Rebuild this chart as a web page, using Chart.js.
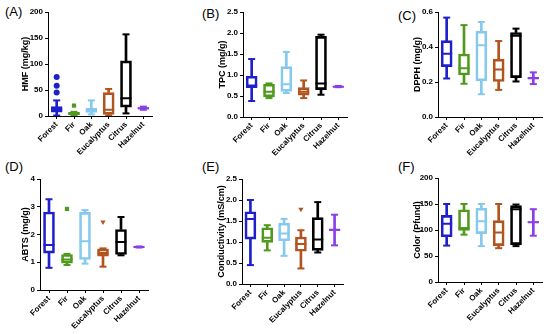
<!DOCTYPE html>
<html>
<head>
<meta charset="utf-8">
<script src="https://cdn.jsdelivr.net/npm/chart.js@4.4.0/dist/chart.umd.min.js"></script>
<style>
  html, body { margin: 0; padding: 0; background: #fff; }
  #wrap { position: relative; width: 550px; height: 334px; overflow: hidden; }
  canvas { position: absolute; }
  .tag { position: absolute; font: 13px "Liberation Sans", Arial, sans-serif; color: #000; }
</style>
</head>
<body>
<div id="wrap">
  <div class="tag" style="left:5px;top:4px">(A)</div>
  <div class="tag" style="left:202px;top:6px">(B)</div>
  <div class="tag" style="left:398px;top:8px">(C)</div>
  <div class="tag" style="left:5px;top:159px">(D)</div>
  <div class="tag" style="left:202px;top:159px">(E)</div>
  <div class="tag" style="left:398px;top:159px">(F)</div>
</div>
<script>
// honey types on every x axis
const categories = ['Forest', 'Fir', 'Oak', 'Eucalyptus', 'Citrus', 'Hazelnut'];
const colors = ['#1f1fcc', '#4f9a1c', '#86c9ee', '#b2541e', '#000000', '#8a3fe6'];

// five-number summaries per category: [min, q1, median, q3, max]
const hmfStats = [[1, 7.5, 12, 18, 30], [1, 2.5, 4.5, 7, 8], [3, 7, 10, 15, 30], [1, 3, 12, 45, 52], [5, 17, 34, 106, 157], [12, 13, 15, 16, 18]];
const tpcStats = [[0.38, 0.70, 0.75, 0.97, 1.38], [0.45, 0.48, 0.60, 0.78, 0.80], [0.57, 0.61, 0.78, 1.20, 1.55], [0.45, 0.52, 0.60, 0.70, 0.87], [0.53, 0.65, 0.80, 1.92, 1.96], [0.71, 0.71, 0.72, 0.73, 0.74]];
const dpphStats = [[0.22, 0.288, 0.362, 0.436, 0.568], [0.19, 0.24, 0.278, 0.36, 0.525], [0.13, 0.206, 0.41, 0.49, 0.543], [0.155, 0.203, 0.272, 0.33, 0.434], [0.203, 0.225, 0.465, 0.483, 0.505], [0.188, 0.217, 0.222, 0.226, 0.255]];
const abtsStats = [[0.80, 1.33, 1.62, 2.81, 3.27], [0.90, 0.97, 1.10, 1.28, 1.30], [0.95, 1.10, 1.76, 2.80, 2.88], [0.84, 1.22, 1.33, 1.48, 1.50], [1.25, 1.28, 1.73, 2.18, 2.63], [1.53, 1.54, 1.55, 1.56, 1.57]];
const condStats = [[0.45, 1.07, 1.55, 1.72, 2.00], [0.80, 0.99, 1.10, 1.34, 1.40], [0.67, 1.03, 1.20, 1.45, 1.55], [0.37, 0.78, 0.95, 1.12, 1.28], [0.75, 0.80, 1.06, 1.58, 1.95], [0.92, 1.27, 1.29, 1.30, 1.65]];
const colorStats = [[70, 87, 112, 128, 150], [91, 99, 104, 139, 150], [69, 93, 117, 142, 150], [65, 70, 95, 118, 150], [69, 72, 140, 147, 149], [89, 114, 115, 116, 140]];

// points drawn beyond the whiskers
const hmfOutliers = [{ x: 'Forest', y: 45 }, { x: 'Forest', y: 58 }, { x: 'Forest', y: 75 }, { x: 'Fir', y: 20 }];
const abtsOutliers = [{ x: 'Fir', y: 2.92 }, { x: 'Eucalyptus', y: 2.45 }];
const condOutliers = [{ x: 'Eucalyptus', y: 1.78 }];

// tick settings per panel: [min, max, step, decimals]
const hmfTicks = [0, 200, 50, 0];
const tpcTicks = [0, 2.5, 0.5, 1];
const dpphTicks = [0, 0.6, 0.2, 1];
const abtsTicks = [0, 4, 1, 0];
const condTicks = [0, 2.5, 0.5, 1];
const colorTicks = [0, 200, 50, 0];

const FONT = '"Liberation Sans", Arial, sans-serif';
const markerStyle = { Forest: 'circle', Fir: 'rect', Eucalyptus: 'triangle' };

function pick(stats, i) { return stats.map(s => s[i]); }

function boxDatasets(stats, outliers) {
  const sets = [
    // whiskers
    { type: 'bar', data: stats.map(s => [s[0], s[1]]), backgroundColor: colors, borderWidth: 0, barThickness: 2, grouped: false, order: 3 },
    { type: 'bar', data: stats.map(s => [s[3], s[4]]), backgroundColor: colors, borderWidth: 0, barThickness: 2, grouped: false, order: 3 },
    // boxes
    { type: 'bar', data: stats.map(s => [s[1], s[3]]), backgroundColor: 'rgba(0,0,0,0)', borderColor: colors, borderWidth: 2, borderSkipped: false, barThickness: 11, grouped: false, order: 2 },
    // caps and medians
    { type: 'line', data: pick(stats, 0), showLine: false, pointStyle: 'line', pointRadius: 3.5, pointBorderWidth: 2, pointBorderColor: colors, order: 1 },
    { type: 'line', data: pick(stats, 4), showLine: false, pointStyle: 'line', pointRadius: 3.5, pointBorderWidth: 2, pointBorderColor: colors, order: 1 },
    { type: 'line', data: pick(stats, 2), showLine: false, pointStyle: 'line', pointRadius: 5.5, pointBorderWidth: 2, pointBorderColor: colors, order: 1 }
  ];
  if (outliers && outliers.length) {
    const c = outliers.map(o => colors[categories.indexOf(o.x)]);
    sets.push({
      type: 'line', data: outliers, showLine: false, order: 0,
      pointStyle: outliers.map(o => markerStyle[o.x] || 'circle'),
      rotation: outliers.map(o => o.x === 'Eucalyptus' ? 180 : 0),
      pointRadius: 3, pointBorderWidth: 0,
      pointBackgroundColor: c, pointBorderColor: c
    });
  }
  return sets;
}

/**
 * One box-plot panel on its own canvas.
 * box = [canvasLeft, canvasTop, width, height], area = [left, top, right, bottom] of plot area inside canvas,
 * padLeft = where the y scale box starts
 */
function makePanel(box, area, padLeft, title, stats, ticks, outliers) {
  const cv = document.createElement('canvas');
  cv.width = box[2];
  cv.height = box[3];
  cv.style.left = box[0] + 'px';
  cv.style.top = box[1] + 'px';
  document.getElementById('wrap').appendChild(cv);

  new Chart(cv, {
    type: 'bar',
    data: { labels: categories, datasets: boxDatasets(stats, outliers) },
    options: {
      responsive: false,
      animation: false,
      events: [],
      layout: { padding: { left: padLeft, top: area[1], right: box[2] - area[2], bottom: 0 } },
      plugins: { legend: { display: false }, tooltip: { enabled: false } },
      scales: {
        x: {
          offset: true,
          afterFit: s => { s.height = box[3] - area[3]; },
          grid: { drawOnChartArea: false, tickLength: 3, color: '#000', offset: false },
          border: { color: '#000', width: 1 },
          ticks: { autoSkip: false, minRotation: 45, maxRotation: 45, padding: 1, color: '#000', font: { family: FONT, size: 8, weight: 'bold' } }
        },
        y: {
          min: ticks[0], max: ticks[1],
          afterFit: s => { s.width = area[0] - padLeft; },
          grid: { drawOnChartArea: false, tickLength: 3, color: '#000' },
          border: { color: '#000', width: 1 },
          title: { display: true, text: title, padding: { top: 0, bottom: 0 }, color: '#000', font: { family: FONT, size: 9, weight: 'bold' } },
          ticks: {
            stepSize: ticks[2], padding: 2, color: '#000',
            font: { family: FONT, size: 8, weight: 'bold' },
            callback: v => Number(v).toFixed(ticks[3])
          }
        }
      }
    }
  });
}

makePanel([0, 0, 183, 167], [48, 12, 152, 116], 20, 'HMF (mg/kg)', hmfStats, hmfTicks, hmfOutliers);
makePanel([180, 0, 183, 167], [63, 12, 167, 117], 37, 'TPC (mg/g)', tpcStats, tpcTicks, null);
makePanel([360, 0, 190, 167], [78, 12, 182, 117], 52, 'DPPH (mg/g)', dpphStats, dpphTicks, null);
makePanel([0, 167, 183, 167], [40, 12, 148, 123], 20, 'ABTS (mg/g)', abtsStats, abtsTicks, abtsOutliers);
makePanel([180, 167, 183, 167], [62, 12, 163, 117], 36, 'Conductivity (mS/cm)', condStats, condTicks, condOutliers);
makePanel([360, 167, 190, 167], [78, 11, 182, 115], 52, 'Color (Pfund)', colorStats, colorTicks, null);
</script>
</body>
</html>
